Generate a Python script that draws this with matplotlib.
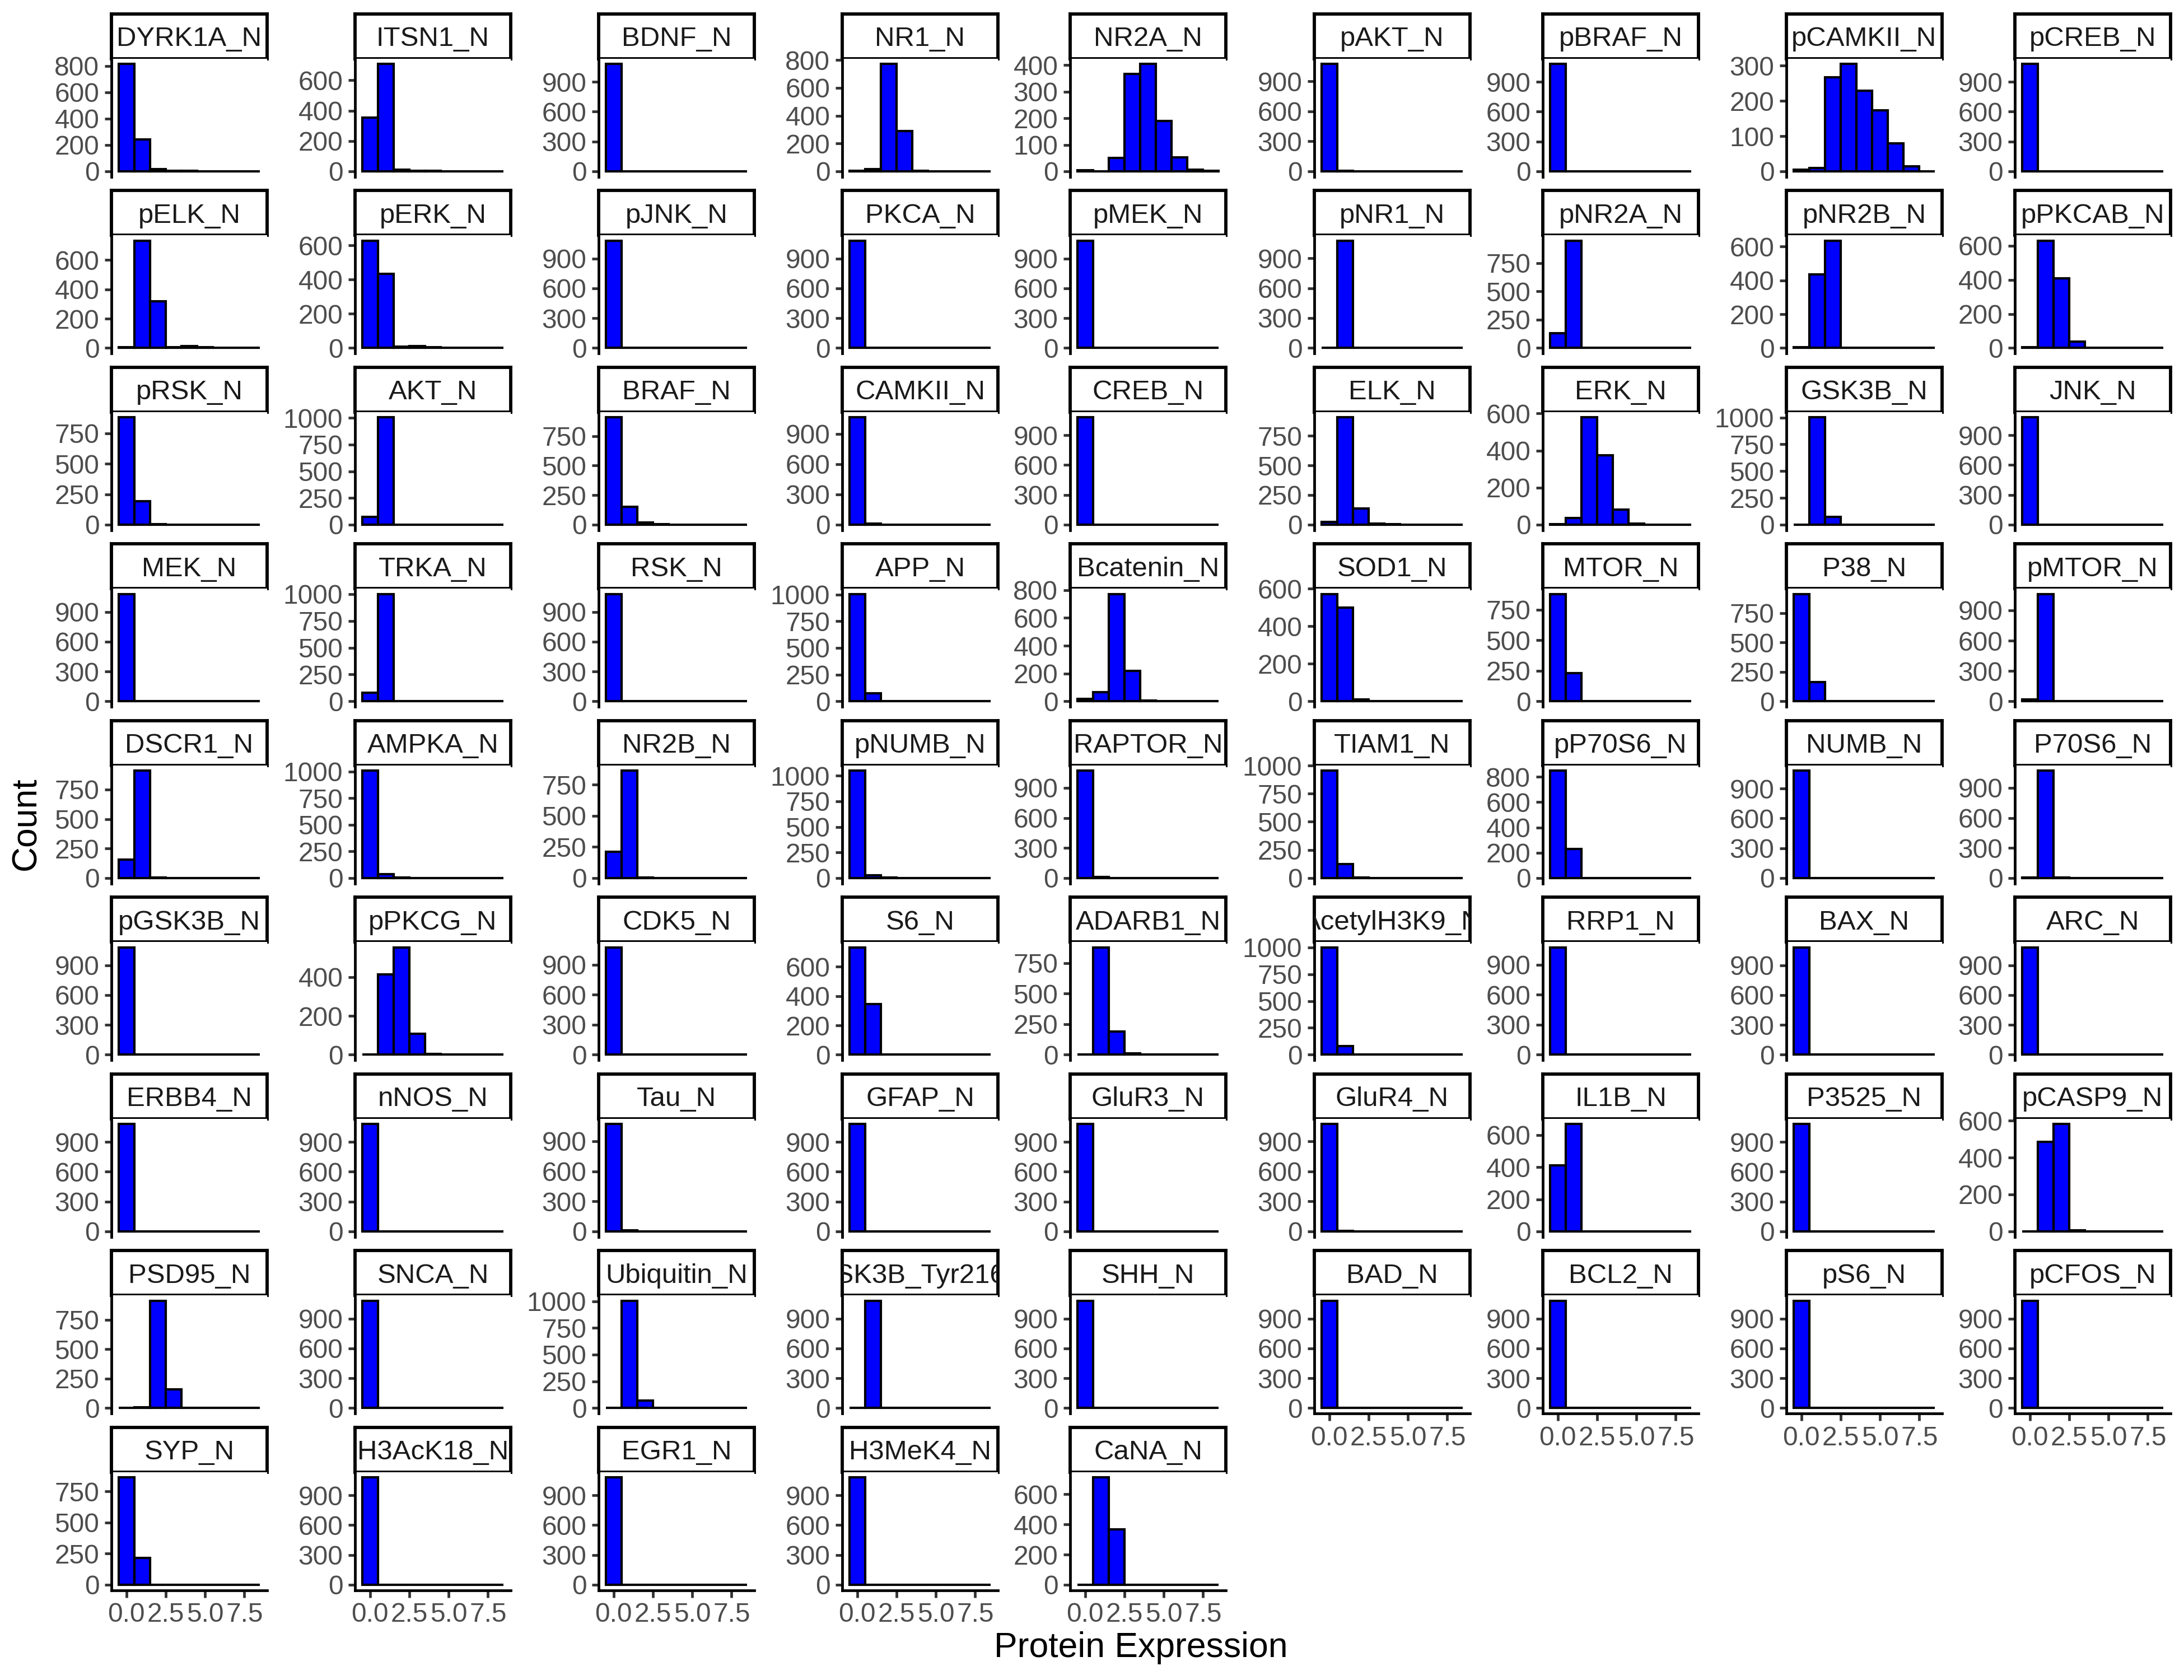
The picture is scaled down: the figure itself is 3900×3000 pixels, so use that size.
import math

import matplotlib
matplotlib.use('Agg')
import matplotlib.pyplot as plt

plt.rcParams['font.family'] = ['Liberation Sans', 'DejaVu Sans']

proteins = [
    'DYRK1A_N', 'ITSN1_N', 'BDNF_N', 'NR1_N', 'NR2A_N', 'pAKT_N', 'pBRAF_N', 'pCAMKII_N', 'pCREB_N',
    'pELK_N', 'pERK_N', 'pJNK_N', 'PKCA_N', 'pMEK_N', 'pNR1_N', 'pNR2A_N', 'pNR2B_N', 'pPKCAB_N',
    'pRSK_N', 'AKT_N', 'BRAF_N', 'CAMKII_N', 'CREB_N', 'ELK_N', 'ERK_N', 'GSK3B_N', 'JNK_N',
    'MEK_N', 'TRKA_N', 'RSK_N', 'APP_N', 'Bcatenin_N', 'SOD1_N', 'MTOR_N', 'P38_N', 'pMTOR_N',
    'DSCR1_N', 'AMPKA_N', 'NR2B_N', 'pNUMB_N', 'RAPTOR_N', 'TIAM1_N', 'pP70S6_N', 'NUMB_N', 'P70S6_N',
    'pGSK3B_N', 'pPKCG_N', 'CDK5_N', 'S6_N', 'ADARB1_N', 'AcetylH3K9_N', 'RRP1_N', 'BAX_N', 'ARC_N',
    'ERBB4_N', 'nNOS_N', 'Tau_N', 'GFAP_N', 'GluR3_N', 'GluR4_N', 'IL1B_N', 'P3525_N', 'pCASP9_N',
    'PSD95_N', 'SNCA_N', 'Ubiquitin_N', 'pGSK3B_Tyr216_N', 'SHH_N', 'BAD_N', 'BCL2_N', 'pS6_N', 'pCFOS_N',
    'SYP_N', 'H3AcK18_N', 'EGR1_N', 'H3MeK4_N', 'CaNA_N',
]

# counts per bin (bins of width 1 centred on 0, 1, 2, ... 8), trailing zeros omitted
row1_counts = [
    [815, 240, 18, 5, 2], [353, 708, 12, 5, 2], [1080], [3, 15, 772, 290, 2],
    [5, 0, 50, 368, 405, 190, 52, 6, 2], [1075, 5], [1080],
    [4, 10, 267, 305, 229, 173, 80, 14, 0], [1080],
]
row2_counts = [
    [5, 733, 317, 7, 13, 5, 2], [628, 432, 7, 10, 3], [1080], [1080], [1080],
    [3, 1077], [132, 948], [5, 436, 636, 3], [4, 630, 410, 36],
]
row3_counts = [
    [883, 192, 3, 1, 1], [72, 1006, 2], [909, 150, 18, 3], [1066, 12, 2], [1080],
    [23, 906, 138, 10, 3], [4, 36, 580, 374, 80, 5, 1], [2, 1003, 75], [1080],
]
row4_counts = [
    [1080], [80, 1000], [1080], [1005, 73, 2], [18, 66, 772, 220, 4],
    [572, 498, 9, 1], [880, 232], [912, 165, 3], [18, 1062],
]
row5_counts = [
    [157, 910, 3], [1010, 39, 3], [212, 864, 4], [1050, 27, 3], [1072, 8],
    [955, 124, 3], [849, 230, 1], [1080], [4, 1072, 4],
]
row6_counts = [
    [1080], [2, 414, 553, 108, 3], [1076, 4], [733, 347], [0, 880, 190, 10],
    [1000, 80], [1076, 4], [1080], [1080],
]
row7_counts = [
    [1080], [1080], [1072, 8], [1080], [1080],
    [1075, 5], [411, 669], [1080], [0, 486, 582, 6, 1],
]
row8_counts = [
    [0, 8, 912, 160], [1080], [0, 1005, 72, 3], [0, 1080], [1080],
    [1080], [1080], [1080], [1080],
]
row9_counts = [
    [864, 216], [1080], [1080], [1080], [0, 712, 368],
]
counts = (row1_counts + row2_counts + row3_counts + row4_counts + row5_counts
          + row6_counts + row7_counts + row8_counts + row9_counts)

bin_centers = [0, 1, 2, 3, 4, 5, 6, 7, 8]
x_ticks = [0.0, 2.5, 5.0, 7.5]
x_tick_labels = ['0.0', '2.5', '5.0', '7.5']


def extended_breaks(dmin, dmax, m=5):
    # labeling::extended, as used by ggplot2 for axis breaks
    Q = [1, 5, 2, 2.5, 4, 3]
    w = [0.25, 0.2, 0.5, 0.05]
    n = len(Q)
    eps = 1e-12
    best = -2.0
    res = None
    rng = dmax - dmin
    j = 1
    done = False
    while not done and j < 30:
        for qi, q in enumerate(Q):
            sm = 1 - qi / (n - 1) - j + 1
            if w[0] * sm + w[1] + w[2] + w[3] < best:
                done = True
                break
            k = 2
            while k < 30:
                dm = 2 - (k - 1) / (m - 1) if k >= m else 1
                if w[0] * sm + w[1] + w[2] * dm + w[3] < best:
                    break
                delta = rng / (k + 1) / j / q
                z = math.ceil(math.log10(delta))
                while z < 30:
                    step = j * q * 10 ** z
                    span = step * (k - 1)
                    if span > rng:
                        half = (span - rng) / 2
                        cm = 1 - 0.5 * (2 * half ** 2) / (0.1 * rng) ** 2
                    else:
                        cm = 1
                    if w[0] * sm + w[1] * cm + w[2] * dm + w[3] < best:
                        break
                    min_start = math.floor(dmax / step) * j - (k - 1) * j
                    max_start = math.ceil(dmin / step) * j
                    if min_start > max_start:
                        z += 1
                        continue
                    for start in range(min_start, max_start + 1):
                        lmin = start * (step / j)
                        lmax = lmin + step * (k - 1)
                        md = lmin % step
                        v = 1 if (md < eps or step - md < eps) and lmin <= 0 <= lmax else 0
                        s = 1 - qi / (n - 1) - j + v
                        c = 1 - 0.5 * ((dmax - lmax) ** 2 + (dmin - lmin) ** 2) / (0.1 * rng) ** 2
                        r = (k - 1) / (lmax - lmin)
                        rt = (m - 1) / (max(lmax, dmax) - min(dmin, lmin))
                        g = 2 - max(r / rt, rt / r)
                        score = w[0] * s + w[1] * c + w[2] * g + w[3]
                        if score > best:
                            best = score
                            res = (lmin, lmax, step)
                    z += 1
                k += 1
        j += 1
    lmin, lmax, step = res
    ticks = []
    t = lmin
    while t <= lmax + step * 1e-6:
        if dmin - 1e-9 <= t <= dmax + 1e-9:
            ticks.append(round(t, 6))
        t += step
    return ticks


W, H = 3900.0, 3000.0
fig = plt.figure(figsize=(13, 10), dpi=300)

col_left = [199, 634, 1069, 1504, 1911, 2347, 2755, 3190, 3598]
panel_w = 278
strip_top0 = 24.5
row_step = 315.5
strip_h = 80
panel_h = 211
n_cols = 9
n = len(proteins)
bottom_row = [max(i // n_cols for i in range(n) if i % n_cols == c) for c in range(n_cols)]

for i, name in enumerate(proteins):
    r, c = divmod(i, n_cols)
    top = strip_top0 + r * row_step
    x0 = col_left[c]

    sax = fig.add_axes([x0 / W, 1 - (top + strip_h) / H, panel_w / W, strip_h / H])
    sax.set_xticks([])
    sax.set_yticks([])
    for sp in sax.spines.values():
        sp.set_linewidth(1.4)
        sp.set_color('black')
    sax.text(0.5, 0.28, name, transform=sax.transAxes, ha='center', va='baseline',
             fontsize=11.8, color='#1A1A1A', clip_on=True)

    ax = fig.add_axes([x0 / W, 1 - (top + strip_h + panel_h) / H, panel_w / W, panel_h / H])
    y = counts[i] + [0] * (len(bin_centers) - len(counts[i]))
    ax.bar(bin_centers, y, width=1.0, color='blue', edgecolor='black', linewidth=1.0)
    ax.set_xlim(-0.95, 8.95)
    ymax = max(y)
    lo, hi = -0.05 * ymax, 1.05 * ymax
    ax.set_ylim(lo, hi)
    yt = extended_breaks(lo, hi)
    ax.set_yticks(yt)
    ax.set_yticklabels(['%d' % round(v) for v in yt])

    ax.spines['top'].set_visible(False)
    ax.spines['right'].set_visible(False)
    ax.spines['left'].set_linewidth(1.15)
    ax.tick_params(axis='y', length=3, width=1.15, color='#333333', labelsize=11.5,
                   labelcolor='#4D4D4D', pad=2.2)
    if r == bottom_row[c]:
        ax.spines['bottom'].set_linewidth(1.15)
        ax.set_xticks(x_ticks)
        ax.set_xticklabels(x_tick_labels)
        ax.tick_params(axis='x', length=3, width=1.15, color='#333333', labelsize=11.5,
                       labelcolor='#4D4D4D', pad=2.2)
    else:
        ax.spines['bottom'].set_visible(False)
        ax.set_xticks([])

fig.text(47 / W, 1 - 1471 / H, 'Count', rotation=90, ha='center', va='center', fontsize=15)
fig.text(2037 / W, 1 - 2942 / H, 'Protein Expression', ha='center', va='center', fontsize=15)

fig.savefig('out.png', dpi=300)
